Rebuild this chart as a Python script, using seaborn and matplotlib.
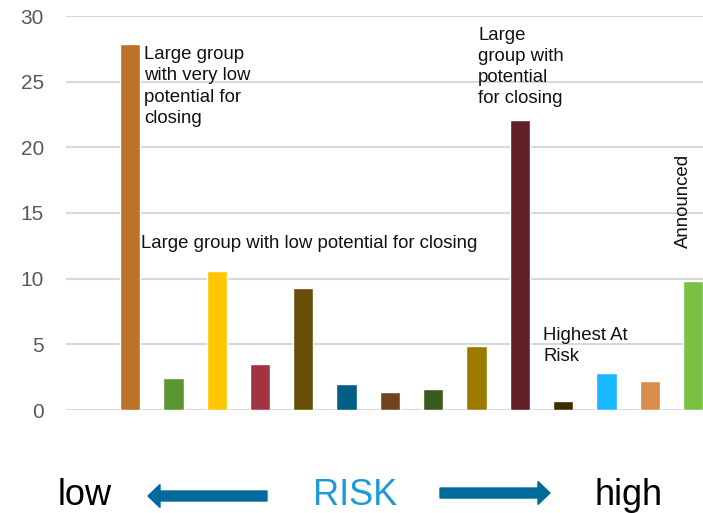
import matplotlib
matplotlib.use("Agg")
import pandas as pd
import seaborn as sns
from matplotlib import pyplot as plt
from matplotlib.patches import FancyArrow
from matplotlib.transforms import IdentityTransform

# bar groups, ordered from low to high risk
groups = ["G1", "G2", "G3", "G4", "G5", "G6", "G7",
          "G8", "G9", "G10", "G11", "G12", "G13", "G14"]
counts = [27.9, 2.4, 10.6, 3.5, 9.3, 2.0, 1.4, 1.6, 4.9, 22.1, 0.7, 2.8, 2.2, 9.8]
bar_colors = ["#BD7229", "#5B9632", "#FFC600", "#A33342", "#674F0A", "#005F87",
              "#71451C", "#375B1F", "#9C7A00", "#631F27", "#3D2D05", "#19B7FF",
              "#D88E4A", "#7AC143"]
y_ticks = [0, 5, 10, 15, 20, 25, 30]

df = pd.DataFrame({"group": groups, "count": counts})

sns.set_style("white")
plt.rcParams["font.family"] = ["Liberation Sans", "DejaVu Sans"]

fig = plt.figure(figsize=(7.03, 5.13), dpi=100)
ax = fig.add_axes([66 / 703, 103 / 513, 1 - 66 / 703, 394 / 513])

sns.barplot(data=df, x="group", y="count", hue="group", palette=bar_colors,
            legend=False, width=0.47, saturation=1, ax=ax)

ax.set_xlim(-1.48, 13.23)
ax.set_ylim(0, 30)
ax.set_yticks(y_ticks)
ax.set_xticks([])
ax.set_xlabel("")
ax.set_ylabel("")
ax.yaxis.grid(True, color="#D9D9D9", linewidth=1.5)
ax.set_axisbelow(True)
ax.tick_params(axis="y", length=0, pad=16, labelsize=15, labelcolor="#595959")
for s in ax.spines.values():
    s.set_visible(False)

# annotations
fs = 13.4
ls = 1.32
ax.text(0.32, 27.7, "Large group\nwith very low\npotential for\nclosing",
        ha="left", va="top", fontsize=fs, color="#111111", linespacing=ls)
ax.text(0.25, 12.7, "Large group with low potential for closing",
        ha="left", va="center", fontsize=fs, color="#111111")
ax.text(8.04, 29.2, "Large\ngroup with\npotential\nfor closing",
        ha="left", va="top", fontsize=fs, color="#111111", linespacing=ls)
ax.text(9.54, 6.35, "Highest At\nRisk", ha="left", va="top", fontsize=fs,
        color="#111111", linespacing=ls)
ax.text(12.77, 12.3, "Announced", rotation=90, ha="center", va="bottom",
        fontsize=fs, color="#111111")

# risk scale under the chart
fig.text(85 / 703, 8 / 513, "low", ha="center", va="baseline", fontsize=26,
         color="black")
fig.text(355 / 703, 8 / 513, "RISK", ha="center", va="baseline", fontsize=26,
         color="#1E9BD7")
fig.text(629 / 703, 8 / 513, "high", ha="center", va="baseline", fontsize=26,
         color="black")

arrow_color = "#006A9A"
fig.add_artist(FancyArrow(267, 17, -119, 0, width=10, head_width=23,
                          head_length=12, length_includes_head=True,
                          color=arrow_color, transform=IdentityTransform()))
fig.add_artist(FancyArrow(440, 20, 110, 0, width=10, head_width=23,
                          head_length=12, length_includes_head=True,
                          color=arrow_color, transform=IdentityTransform()))

fig.savefig("out.png", dpi=100)
